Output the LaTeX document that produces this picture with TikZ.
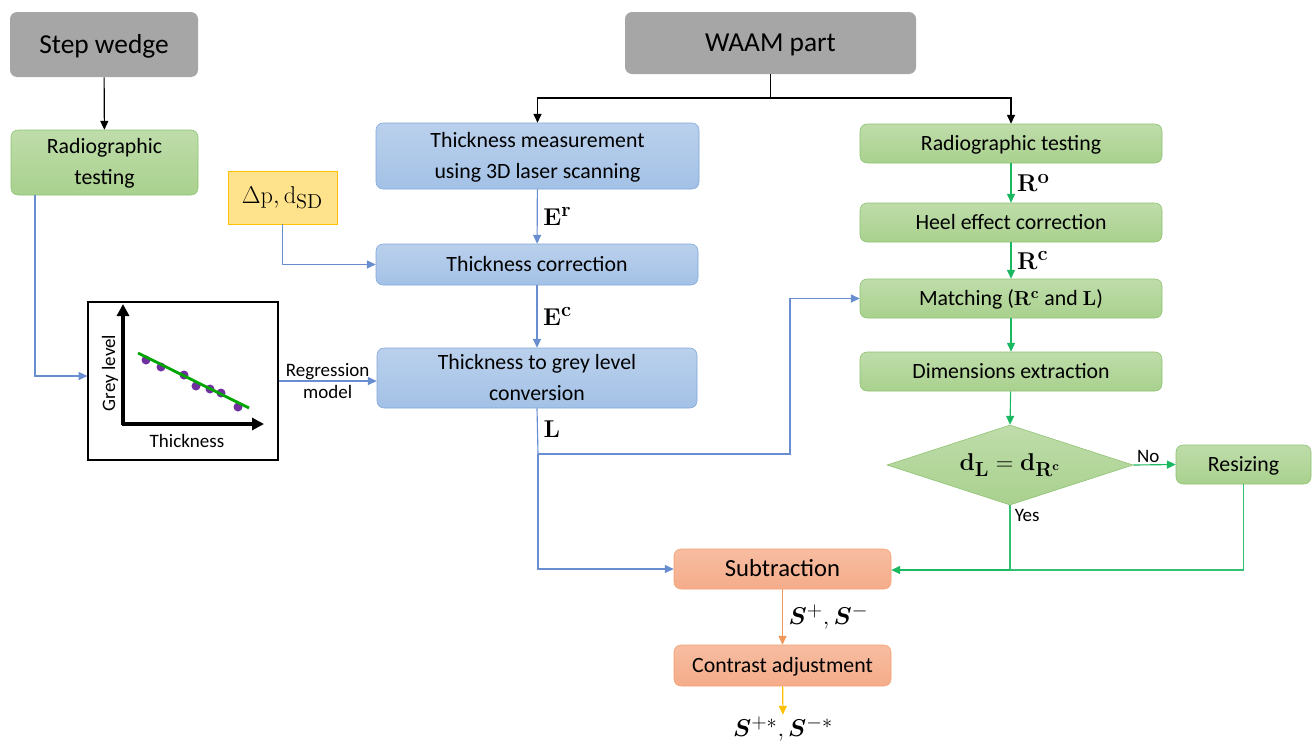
\documentclass[tikz,border=0pt]{standalone}
\usepackage[no-math]{fontspec}
\setmainfont{Carlito}
\usepackage{amsmath,bm}
\usetikzlibrary{positioning,arrows.meta,shapes.geometric}

\definecolor{bluefill}{HTML}{A3C1E6}
\definecolor{blueline}{HTML}{7FA6D9}
\definecolor{bluearr}{HTML}{4472C4}
\definecolor{greenfill}{HTML}{A9D18E}
\definecolor{greenline}{HTML}{8CC270}
\definecolor{greenarr}{HTML}{00B050}
\definecolor{orangefill}{HTML}{F5AC8A}
\definecolor{orangeline}{HTML}{F4A06E}
\definecolor{orangearr}{HTML}{ED7D31}
\definecolor{yellowarr}{HTML}{FFC000}
\definecolor{greyfill}{HTML}{A6A6A6}
\definecolor{dotcol}{HTML}{7030A0}

\begin{document}
\begin{tikzpicture}[
  x=0.025cm, y=-0.025cm,
  boxsize/.style 2 args={minimum width=#1*0.025cm, minimum height=#2*0.025cm},
  base/.style={rounded corners=5pt, align=center, inner sep=1pt, text depth=1pt,
               font=\fontsize{15.5}{22}\selectfont},
  src/.style={base, fill=greyfill, font=\fontsize{19.5}{23}\selectfont},
  bluebox/.style={base, draw=blueline, top color=bluefill!75!white, bottom color=bluefill},
  greenbox/.style={base, draw=greenline, top color=greenfill!75!white, bottom color=greenfill},
  orangebox/.style={base, draw=orangeline, top color=orangefill!80!white, bottom color=orangefill},
  lbl/.style={font=\fontsize{19}{22}\selectfont, inner sep=1pt, text=black},
  small/.style={font=\fontsize{13.5}{15.5}\selectfont, inner sep=1pt, align=center, text=black},
  arr/.style={-{Triangle[length=2.2mm, width=2mm]}, line width=0.8pt},
  barr/.style={arr, bluearr!80!white},
  garr/.style={arr, greenarr!90!white},
]
  \useasboundingbox (0,0) rectangle (1313,745);

  % left branch
  \node[src, boxsize={188}{65}] (wedge) at (104,44.5) {Step wedge};
  \node[greenbox, boxsize={187}{65}] (rtleft) at (104.5,162.5) {Radiographic\\testing};
  \node[boxsize={109}{53}, draw=yellowarr, fill=yellowarr!45!white, inner sep=1pt,
        font=\fontsize{19}{22}\selectfont] (params) at (282.5,197.5) {$\Delta\mathrm{p},\mathrm{d}_{\mathrm{SD}}$};
  \node[boxsize={190}{158}, draw, line width=0.8pt, fill=white] (graph) at (183,381) {};

  % regression plot
  \draw[line width=2.2pt, -{Triangle[length=3mm, width=3mm]}] (123,425) -- (123,304);
  \draw[line width=2.2pt, -{Triangle[length=3mm, width=3mm]}] (121.5,424) -- (264,424);
  \foreach \px/\py in {146/360, 161/367, 184/375, 196/386, 210/389, 221/393, 238/407}
    \fill[dotcol] (\px,\py) circle (3.2pt);
  \draw[line width=2pt, green!65!black] (138,353) -- (249,408);
  \node[small, rotate=90] (ylab) at (110,373) {Grey level};
  \node[small] (xlab) at (187,441) {Thickness};

  % middle branch
  \node[src, boxsize={291}{62}] (waam) at (770.5,43) {WAAM part};
  \node[bluebox, boxsize={323}{66}] (meas) at (537.5,156) {Thickness measurement\\using 3D laser scanning};
  \node[bluebox, boxsize={322}{41}] (corr) at (537,264.5) {Thickness correction};
  \node[bluebox, boxsize={320}{60}] (conv) at (537,378) {Thickness to grey level\\conversion};

  % right branch
  \node[greenbox, boxsize={302}{39}] (rtright) at (1011,143.5) {Radiographic testing};
  \node[greenbox, boxsize={302}{39}] (heel) at (1011,222.5) {Heel effect correction};
  \node[greenbox, boxsize={302}{39}] (match) at (1011,298.5) {Matching ($\mathbf{R}^{\mathbf{c}}$ and $\mathbf{L}$)};
  \node[greenbox, boxsize={302}{39}] (dims) at (1011,371.5) {Dimensions extraction};
  \node[diamond, draw=greenline, top color=greenfill!75!white, bottom color=greenfill,
        aspect=3.07, boxsize={246}{80}, inner sep=0pt,
        font=\fontsize{19}{22}\selectfont] (check) at (1010,465) {$\mathbf{d}_{\mathbf{L}}=\mathbf{d}_{\mathbf{R}^{\mathbf{c}}}$};
  \node[greenbox, boxsize={135}{39}] (resize) at (1243.5,464.5) {Resizing};

  % output
  \node[orangebox, boxsize={217}{40}, font=\fontsize{17.5}{20}\selectfont] (sub) at (782.5,569) {Subtraction};
  \node[orangebox, boxsize={217}{41}] (contrast) at (782.5,665.5) {Contrast adjustment};
  \node[lbl] (out) at (783,729) {$\bm{S}^{+*},\bm{S}^{-*}$};

  % connectors
  \draw[arr] (wedge) -- (rtleft);
  \coordinate (split) at (770.5,98);
  \draw[line width=0.8pt] (waam.south) -- (split);
  \draw[arr] (split) -| (meas.north);
  \draw[arr] (split) -| (rtright.north);

  \draw[barr] (rtleft.south -| 35,0) |- (graph.west |- 0,376);
  \draw[barr] (params.south) |- (corr.west);
  \draw[barr] (graph.east |- 0,381) -- node[small, midway] {Regression\\model} (conv.west |- 0,381);
  \draw[barr] (meas) -- node[lbl, right=3pt] {$\mathbf{E}^{\mathbf{r}}$} (corr);
  \draw[barr] (corr) -- node[lbl, right=3pt] {$\mathbf{E}^{\mathbf{c}}$} (conv);
  \coordinate (lsplit) at (538,454);
  \draw[line width=0.8pt, bluearr!80!white] (conv.south) -- node[lbl, right=3pt, pos=0.45] {$\mathbf{L}$} (lsplit);
  \draw[barr] (lsplit) |- (sub.west);
  \draw[barr] (lsplit) -- (790,454) |- (match.west);

  \draw[garr] (rtright) -- node[lbl, right=3pt] {$\mathbf{R}^{\mathbf{o}}$} (heel);
  \draw[garr] (heel) -- node[lbl, right=3pt] {$\mathbf{R}^{\mathbf{c}}$} (match);
  \draw[garr] (match) -- (dims);
  \draw[garr] (dims) -- (check.north);
  \draw[garr] (check.east) -- node[small, above, pos=0.35] {No} (resize.west);
  \coordinate (join) at (1010,570);
  \draw[line width=0.8pt, greenarr!80!white] (check.south) -- node[small, right=2pt, pos=0.15] {Yes} (join);
  \draw[line width=0.8pt, greenarr!80!white] (resize.south) |- (join);
  \draw[garr] (join) -- (sub.east |- join);

  \draw[arr, orangearr!80!white] (sub) -- node[lbl, right=3pt] {$\bm{S}^{+},\bm{S}^{-}$} (contrast);
  \draw[arr, yellowarr] (contrast) -- (out);
\end{tikzpicture}
\end{document}
